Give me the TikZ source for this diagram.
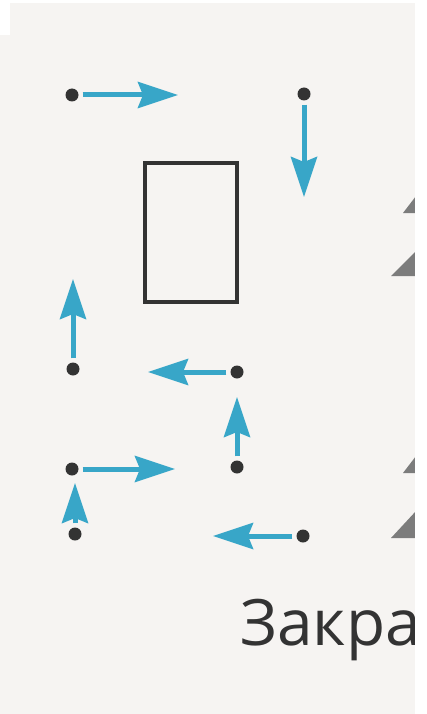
\documentclass[tikz,border=0pt]{standalone}
\usepackage{fontspec}
\newfontfamily\labfont{Open Sans}
\usetikzlibrary{arrows.meta}
\definecolor{paper}{HTML}{F6F4F2}
\definecolor{arrowblue}{HTML}{38A6C8}
\definecolor{ink}{HTML}{333333}
\definecolor{shade}{HTML}{7C7C7C}
\tikzset{
  dot/.style={circle,fill=ink,inner sep=0pt,minimum size=13pt},
  arr/.style={draw=arrowblue,line width=5pt,shorten <=4pt,
    -{Stealth[length=40pt,width=26pt,inset=5pt,fill=arrowblue]}},
  frame/.style={draw=ink,line width=3.4pt},
  lab/.style={font=\labfont\fontsize{64}{70}\selectfont,text=ink,inner sep=0pt},
  tri/.style={fill=shade}
}
\begin{document}
\begin{tikzpicture}[x=1pt,y=-1pt]
\useasboundingbox (0,0) rectangle (427,714);
\fill[white] (0,0) rectangle (427,714);
\fill[paper] (10,3) rectangle (415,714);
\fill[paper] (0,35) rectangle (10,714);
% rectangle
\node[frame,minimum width=92pt,minimum height=139pt,inner sep=0pt] (box) at (191,232.5) {};
% dots
\node[dot] (d1) at (72,95) {};
\node[dot] (d2) at (304,94) {};
\node[dot] (d3) at (73,369) {};
\node[dot] (d4) at (237,372) {};
\node[dot] (d5) at (237,467) {};
\node[dot] (d6) at (72,469) {};
\node[dot] (d7) at (75,534) {};
\node[dot] (d8) at (303,536) {};
% arrow tips
\coordinate (e1) at (178,95);
\coordinate (e2) at (304,197);
\coordinate (e3) at (73,279);
\coordinate (e4) at (148,372);
\coordinate (e5) at (237,397);
\coordinate (e6) at (175,469);
\coordinate (e7) at (75,483);
\coordinate (e8) at (213,536);
\foreach \i in {1,...,8} \draw[arr] (d\i) -- (e\i);
% partial triangles at right edge
\fill[tri] (416,196) -- (403,213) -- (416,213) -- cycle;
\fill[tri] (416,251) -- (391,276) -- (416,276) -- cycle;
\fill[tri] (416,456) -- (403,473) -- (416,473) -- cycle;
\fill[tri] (416,511) -- (391,538) -- (416,538) -- cycle;
% text
\node[lab,anchor=base west] (t) at (240,645) {Закра};
% white right strip
\fill[white] (415,0) rectangle (427,714);
\end{tikzpicture}
\end{document}
